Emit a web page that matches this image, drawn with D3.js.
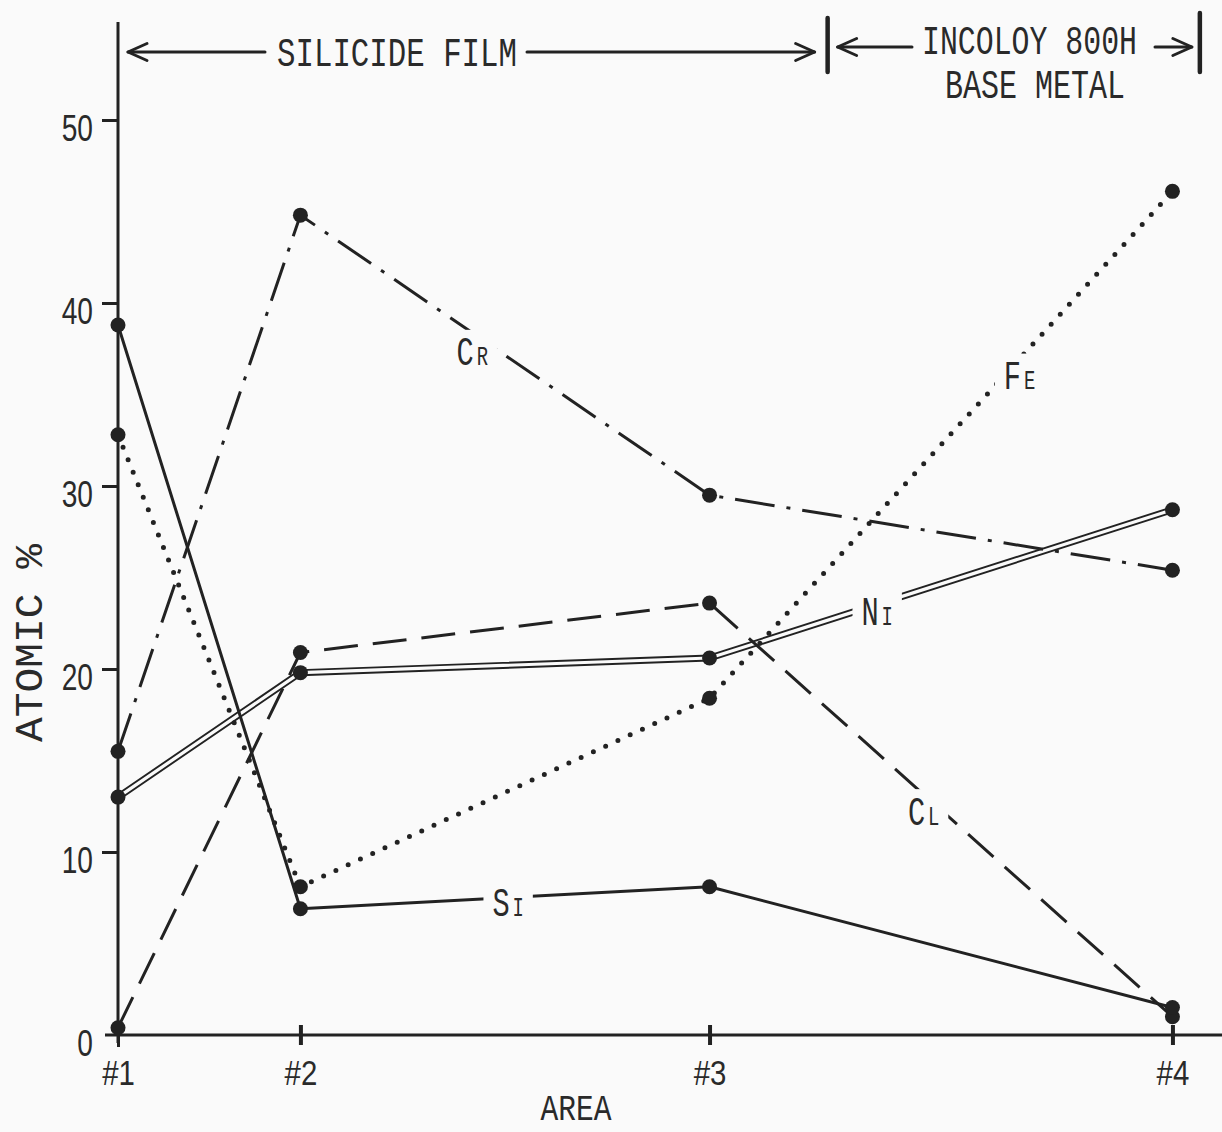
<!DOCTYPE html>
<html><head><meta charset="utf-8">
<script src="https://cdn.jsdelivr.net/npm/d3@7"></script>
<style>
html,body{margin:0;padding:0;background:#fafafa;}
svg{display:block;}
text{font-family:"Liberation Mono","DejaVu Sans Mono",monospace;fill:#2a2a2a;}
</style>
</head><body>
<svg id="chart" width="1222" height="1132"></svg>
<script>
// ---------- data ----------
const areas = ["#1", "#2", "#3", "#4"];
const areaDepth = [0, 1.73, 5.61, 10];
const yTicks = [0, 10, 20, 30, 40, 50];
const siValues = [38.8, 6.9, 8.1, 1.5];
const feValues = [32.8, 8.1, 18.4, 46.1];
const crValues = [15.5, 44.8, 29.5, 25.4];
const niValues = [13.0, 19.8, 20.6, 28.7];
const clValues = [0.4, 20.9, 23.6, 1.0];
const seriesOrder = ["Ni", "Cl", "Cr", "Fe", "Si"];
const labelMain = ["N", "C", "C", "F", "S"];
const labelSub = ["I", "L", "R", "E", "I"];
const labelDepth = [7.20, 7.64, 3.36, 8.55, 3.70];
const labelValue = [23.1, 12.2, 37.3, 36.0, 7.2];
const regionLabels = ["SILICIDE FILM", "INCOLOY 800H", "BASE METAL"];
const regionBounds = [0, 6.73, 10.26];
const yTitle = "ATOMIC %";
const xTitle = "AREA";

// ---------- setup ----------
const svg = d3.select("#chart");
const ink = "#222";
const FONT = '"Liberation Mono","DejaVu Sans Mono",monospace';
const NUMFONT = '"Liberation Sans",Arial,sans-serif';
const x = d3.scaleLinear().domain([0, 10.47]).range([118, 1222]);
const y = d3.scaleLinear().domain([0, 50]).range([1035, 120]);

function condense(sel, ratio) {
  sel.each(function () {
    const L = this.getComputedTextLength();
    d3.select(this).attr("textLength", L * ratio).attr("lengthAdjust", "spacingAndGlyphs");
  });
}

const valuesBySeries = { Si: siValues, Fe: feValues, Cr: crValues, Ni: niValues, Cl: clValues };
const styles = {
  Ni: { dash: null, width: 7, double: true },
  Cl: { dash: "34,15", width: 3 },
  Cr: { dash: "40,12,4,12", width: 3 },
  Fe: { dash: "0,13.5", width: 5, cap: "round" },
  Si: { dash: null, width: 3 }
};

// ---------- axes ----------
const yAxisG = svg.append("g").attr("transform", `translate(${x(0)},0)`)
  .call(d3.axisLeft(y).tickValues(yTicks).tickSize(16).tickPadding(8).tickFormat(d3.format("d")));
yAxisG.select(".domain").remove();
yAxisG.selectAll(".tick line").attr("stroke", ink).attr("stroke-width", 3);
yAxisG.selectAll(".tick text").attr("font-size", 37).attr("dy", "0.55em").attr("fill", "#2a2a2a")
  .style("font-family", NUMFONT).style("font-weight", 300).attr("x", -25);
condense(yAxisG.selectAll(".tick text"), 0.76);
yAxisG.selectAll(".tick").filter(d => d === 0).select("line").remove();

// axis lines
svg.append("line").attr("x1", x(0)).attr("x2", x(0)).attr("y1", y(0) + 8).attr("y2", 22)
  .attr("stroke", ink).attr("stroke-width", 3);
svg.append("line").attr("x1", x(0) - 13).attr("x2", 1222).attr("y1", y(0)).attr("y2", y(0))
  .attr("stroke", ink).attr("stroke-width", 3);

// x ticks
const xAxisG = svg.append("g").attr("transform", `translate(0,${y(0)})`)
  .call(d3.axisBottom(x).tickValues(areaDepth).tickSize(0).tickFormat((d, i) => areas[i]));
xAxisG.select(".domain").remove();
xAxisG.selectAll(".tick text").attr("font-size", 35).attr("y", 50).attr("dy", 0)
  .attr("fill", "#2a2a2a").style("font-family", NUMFONT);
condense(xAxisG.selectAll(".tick text"), 0.84);
xAxisG.selectAll(".tick").append("line")
  .attr("y1", (d, i) => i === 0 ? 0 : -10).attr("y2", (d, i) => i === 0 ? 12 : 10)
  .attr("stroke", ink).attr("stroke-width", (d, i) => i === 0 ? 3 : 4);

// titles
const xt = svg.append("text").attr("x", 576).attr("y", 1120).attr("text-anchor", "middle")
  .attr("font-size", 36).text(xTitle);
condense(xt, 0.82);
const yt = svg.append("text").attr("transform", "translate(42,643) rotate(-90)")
  .attr("text-anchor", "middle").attr("font-size", 38).text(yTitle);
yt.attr("textLength", 198).attr("lengthAdjust", "spacingAndGlyphs");

// ---------- header ----------
const hdr = svg.append("g").attr("stroke", ink).attr("fill", "none").attr("stroke-linecap", "round");
function arrow(x1, x2, yy, dir) {
  hdr.append("line").attr("x1", x1).attr("x2", x2).attr("y1", yy).attr("y2", yy).attr("stroke-width", 3);
  const tip = dir > 0 ? x2 : x1;
  hdr.append("polyline").attr("stroke-width", 3).attr("stroke-linejoin", "round")
    .attr("points", `${tip - dir * 19},${yy - 8.5} ${tip},${yy} ${tip - dir * 19},${yy + 8.5}`);
}
const b0 = x(regionBounds[0]), b1 = x(regionBounds[1]), b2 = x(regionBounds[2]);
arrow(b0 + 10, 265, 52, -1);
arrow(527, b1 - 13, 52, 1);
arrow(b1 + 10, 912, 47, -1);
arrow(1155, b2 - 8, 47, 1);
hdr.append("line").attr("x1", b1).attr("x2", b1).attr("y1", 18).attr("y2", 72).attr("stroke-width", 4.5);
hdr.append("line").attr("x1", b2).attr("x2", b2).attr("y1", 13).attr("y2", 72).attr("stroke-width", 4.5);

svg.append("text").attr("x", 277).attr("y", 66).attr("font-size", 41)
  .attr("textLength", 240).attr("lengthAdjust", "spacingAndGlyphs").text(regionLabels[0]);
svg.append("text").attr("x", 922).attr("y", 54).attr("font-size", 41)
  .attr("textLength", 215).attr("lengthAdjust", "spacingAndGlyphs").text(regionLabels[1]);
svg.append("text").attr("x", 945).attr("y", 98).attr("font-size", 41)
  .attr("textLength", 180).attr("lengthAdjust", "spacingAndGlyphs").text(regionLabels[2]);

// ---------- series ----------
const line = d3.line().x((d, i) => x(areaDepth[i])).y(d => y(d));
const linesG = svg.append("g");
seriesOrder.forEach(name => {
  const st = styles[name];
  const vals = valuesBySeries[name];
  const p = linesG.append("path").attr("d", line(vals)).attr("fill", "none")
    .attr("stroke", ink).attr("stroke-width", st.width)
    .attr("stroke-linecap", st.cap || "butt").attr("stroke-linejoin", "round");
  if (st.dash) p.attr("stroke-dasharray", st.dash);
  if (st.double) {
    linesG.append("path").attr("d", line(vals)).attr("fill", "none")
      .attr("stroke", "#fafafa").attr("stroke-width", 3.2).attr("stroke-linejoin", "round");
  }
});

// markers
const markersG = svg.append("g");
seriesOrder.forEach(name => {
  markersG.selectAll(null).data(valuesBySeries[name]).join("circle")
    .attr("cx", (d, i) => x(areaDepth[i])).attr("cy", d => y(d)).attr("r", 7.5).attr("fill", ink);
});

// series labels (with background to break the line)
const labG = svg.append("g");
seriesOrder.forEach((name, k) => {
  const g = labG.append("g").attr("transform", `translate(${x(labelDepth[k])},${y(labelValue[k])})`);
  const t = g.append("text").attr("transform", "scale(0.7,1)").attr("text-anchor", "middle")
    .attr("y", 13);
  t.append("tspan").attr("font-size", 41).text(labelMain[k]);
  t.append("tspan").attr("font-size", 27).attr("dx", 4).text(labelSub[k]);
  const bb = g.node().getBBox();
  g.insert("rect", "text").attr("x", bb.x - 9).attr("y", bb.y - 2)
    .attr("width", bb.width + 18).attr("height", bb.height + 4).attr("fill", "#fafafa");
});
</script>
</body></html>
